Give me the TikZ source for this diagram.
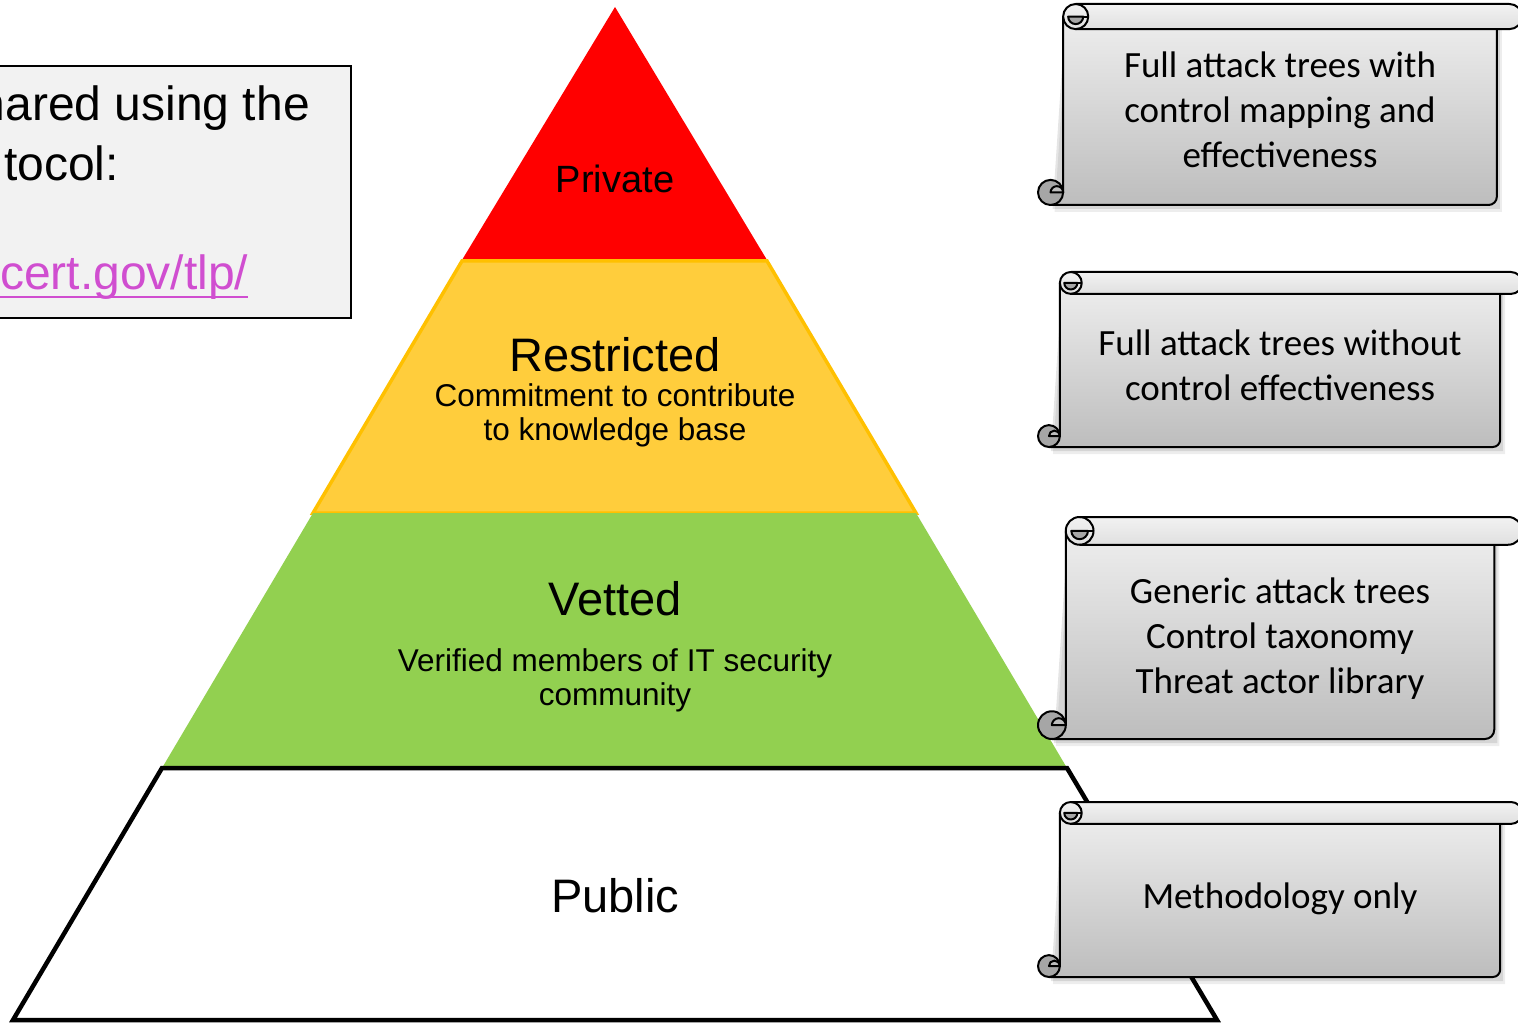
\documentclass[tikz,border=0pt]{standalone}
\usepackage{fontspec}
\setmainfont{Liberation Sans}
\newfontfamily\scrollfont{Carlito}
\usetikzlibrary{calc}

\definecolor{tlpred}{HTML}{FF0000}
\definecolor{tlpyellow}{HTML}{FFCD3C}
\definecolor{tlpgold}{HTML}{FFC000}
\definecolor{tlpgreen}{HTML}{92D050}
\definecolor{boxgray}{HTML}{F2F2F2}
\definecolor{linkpink}{HTML}{D04ED0}
\definecolor{curlgray}{HTML}{A6A6A6}
\definecolor{bodytop}{HTML}{EEEEEE}
\definecolor{bodybottom}{HTML}{BDBDBD}
\definecolor{rolltop}{HTML}{F2F2F2}
\definecolor{rollbottom}{HTML}{E0E0E0}

% multi-line nodes below sit on the baseline of their last line
\tikzset{
  layerlabel/.style={inner sep=0pt, anchor=base, font=\fontsize{47}{47}\selectfont},
  layernote/.style={inner sep=0pt, anchor=base, align=center, font=\fontsize{31.5}{34}\selectfont},
  scrolltext/.style={inner sep=0pt, anchor=base, align=center, font=\scrollfont\fontsize{37}{45}\selectfont},
  boxtext/.style={inner sep=0pt, anchor=base west, font=\fontsize{48}{58}\selectfont},
  scrollline/.style={draw=black, line width=2pt, line join=round},
}

% A rolled scroll: left, top, right, bottom (pixel-style coordinates, y down)
\newcommand\drawscroll[4]{%
  \pgfmathsetmacro\scrC{0.125*(#4-#2)}%
  \pgfmathsetmacro\scrH{\scrC/2}%
  \pgfmathsetmacro\scrQ{\scrC/4}%
  \pgfmathsetmacro\scrBL{#1+\scrC}%
  \pgfmathsetmacro\scrBR{#3-\scrC}%
  \pgfmathsetmacro\scrRC{\scrC/3}%
  % soft drop shadow
  \fill[black, opacity=0.10] (\scrBL+2, #2+\scrH+3) -- (\scrBR+3, #2+\scrH+3) -- (\scrBR+3, #4+4) -- (#1+\scrH+2, #4+4) -- cycle;
  \fill[black, opacity=0.07] (\scrBL+4, #2+\scrH+6) -- (\scrBR+5, #2+\scrH+6) -- (\scrBR+5, #4+7) -- (#1+\scrH+4, #4+7) -- cycle;
  % sheet
  \path[scrollline, top color=bodytop, bottom color=bodybottom]
    (\scrBL, #2+\scrH) -- (\scrBL, #4-\scrH) -- (#1+\scrH, #4-\scrH) -- (#1+\scrH, #4)
    -- (\scrBR-\scrRC, #4) arc[start angle=90, end angle=0, radius=\scrRC]
    -- (\scrBR, #2+\scrH) -- cycle;
  % bottom curl
  \path[scrollline, fill=curlgray] (#1+\scrH, #4-\scrH) circle[radius=\scrH];
  \path[scrollline, fill=bodybottom] (#1+\scrH, #4-\scrH) arc[start angle=180, end angle=360, radius=\scrQ] -- cycle;
  % top roll
  \path[scrollline, top color=rolltop, bottom color=rollbottom]
    (\scrBL+\scrH, #2) -- (#3-\scrH, #2) arc[start angle=-90, end angle=90, radius=\scrH]
    -- (\scrBL+\scrH, #2+\scrC) arc[start angle=90, end angle=270, radius=\scrH] -- cycle;
  \draw[scrollline] (\scrBL+\scrH, #2) arc[start angle=-90, end angle=90, radius=\scrH];
  \path[scrollline, fill=curlgray] (\scrBL+\scrH+0.6*\scrH, #2+\scrH) arc[start angle=0, end angle=180, radius=0.6*\scrH] -- cycle;
  \draw[scrollline] (\scrBL+\scrH+0.6*\scrH, #2+\scrH) -- (\scrBL+\scrC, #2+\scrH);
}

\begin{document}
\begin{tikzpicture}[x=1pt, y=-1pt]
\useasboundingbox (0,0) rectangle (1518,1024);

% information box (partly outside the page)
\path[draw=black, line width=1.6pt, fill=boxgray] (-20,66) rectangle (351,318);
\node[boxtext, anchor=base east] (tbone) at (310,121) {hared using the};
\node[boxtext] (tbtwo) at (4,181) {tocol:};
\node[boxtext, text=linkpink] (tblink) at (0,290) {cert.gov/tlp/};
\draw[linkpink, line width=2.6pt] ($(tblink.base west)+(0,7)$) -- ($(tblink.base east)+(-1,7)$);

% pyramid layers
\fill[tlpred] (615,7) -- (767,260) -- (462,260) -- cycle;
\path[fill=tlpyellow, draw=tlpgold, line width=3.5pt, line join=miter] (462,261) -- (767,261) -- (916,513) -- (313,513) -- cycle;
\fill[tlpgreen] (313,513) -- (916,513) -- (1067,768) -- (162,768) -- cycle;
\path[fill=white, draw=black, line width=4.5pt, line join=miter] (162,768) -- (1067,768) -- (1217,1020) -- (13,1020) -- cycle;

% layer labels
\node[layerlabel, font=\fontsize{38}{38}\selectfont] (private) at (615,193) {Private};
\node[layerlabel] (restricted) at (615,371) {Restricted};
\node[layernote] (restrictednote) at (615,440) {Commitment to contribute\\to knowledge base};
\node[layerlabel] (vetted) at (615,615) {Vetted};
\node[layernote] (vettednote) at (615,705) {Verified members of IT security\\community};
\node[layerlabel] (public) at (615,912) {Public};

% scrolls
\drawscroll{1038}{4}{1522}{205}
\drawscroll{1038}{272}{1522}{447}
\drawscroll{1038}{517}{1522}{739}
\drawscroll{1038}{802}{1522}{977}

\node[scrolltext] (privscroll) at (1280,168) {Full attack trees with\\control mapping and\\effectiveness};
\node[scrolltext] (restscroll) at (1280,400) {Full attack trees without\\control effectiveness};
\node[scrolltext] (vetscroll) at (1280,693) {Generic attack trees\\Control taxonomy\\Threat actor library};
\node[scrolltext] (pubscroll) at (1280,908) {Methodology only};
\end{tikzpicture}
\end{document}
